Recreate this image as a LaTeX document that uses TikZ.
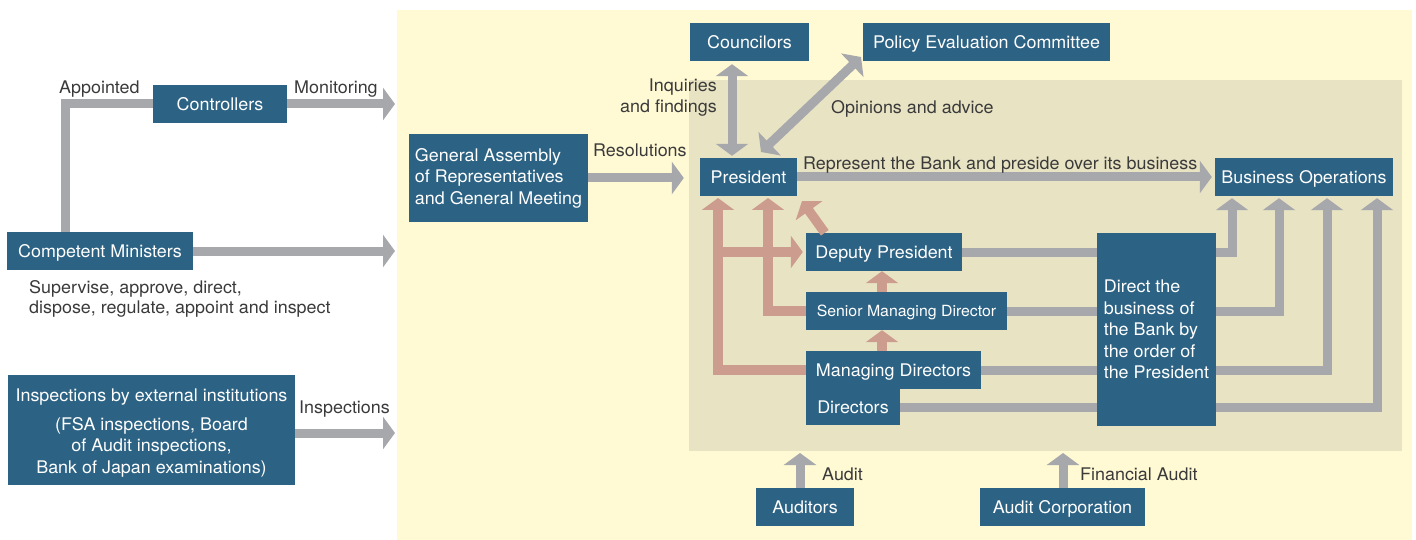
\documentclass[tikz,border=0pt]{standalone}
\usepackage{fontspec}
\setmainfont{TeX Gyre Heros}[FakeStretch=1.03]
\usetikzlibrary{arrows.meta}
\definecolor{bgyellow}{HTML}{FFF9D4}
\definecolor{bgbeige}{HTML}{E8E3C3}
\definecolor{boxblue}{HTML}{2C6283}
\definecolor{arrgray}{HTML}{A7A8AC}
\definecolor{arrred}{HTML}{CC9D8E}
\definecolor{labtext}{HTML}{3A3A3A}
\begin{document}
\begin{tikzpicture}[x=1pt,y=-1pt,
  font=\fontsize{17.4}{21.6}\selectfont,
  box/.style={fill=boxblue,text=white,inner sep=0pt,minimum height=38pt},
  one/.style={text height=12.7pt,text depth=0pt},
  lab/.style={text=labtext,inner sep=0pt,anchor=base west},
  gline/.style={draw=arrgray,line width=9pt,line join=miter},
  garrow/.style={gline,-{Triangle[width=32pt,length=12pt]}},
  gdarrow/.style={gline,{Triangle[width=32pt,length=12pt]}-{Triangle[width=32pt,length=12pt]}},
  rarrow/.style={draw=arrred,line width=9.5pt,line join=miter,-{Triangle[width=32pt,length=12pt]}}
]
\useasboundingbox (0,0) rectangle (1416,540);
% backgrounds
\fill[bgyellow] (397,10) rectangle (1412,540);
\fill[bgbeige] (689,80) rectangle (1402,451);

% boxes
\node[box,one,minimum width=134pt] (ctrl) at (220,104) {Controllers};
\node[box,one,minimum width=186pt] (cm) at (100,251) {Competent Ministers};
\node[box,minimum width=287pt,minimum height=110pt,align=center] (insp) at (151.5,430)
  {\rule{0pt}{18pt}Inspections by external institutions\\[7.4pt]
   (FSA inspections, Board\\ of Audit inspections,\\ Bank of Japan examinations)};
\node[box,minimum width=179pt,minimum height=88pt,align=left] (ga) at (498.5,178)
  {General Assembly\\ of Representatives\\ and General Meeting};
\node[box,one,minimum width=119pt] (coun) at (749.5,42) {Councilors};
\node[box,one,minimum width=247pt] (pec) at (986.5,42) {Policy Evaluation Committee};
\node[box,one,minimum width=97pt] (pres) at (748.5,177) {President};
\node[box,one,minimum width=178pt] (biz) at (1304,177) {Business Operations};
\node[box,one,minimum width=156pt] (dep) at (884,252) {Deputy President};
\node[box,one,minimum width=201pt,font=\fontsize{15.4}{19}\selectfont,text height=11.3pt] (sen) at (906.5,311) {Senior Managing Director};
\node[box,one,minimum width=175pt] (mgr) at (893.5,370) {Managing Directors};
\node[box,one,minimum width=94pt,minimum height=36pt] (drs) at (853,407) {Directors};
\node[box,minimum width=119pt,minimum height=193pt,align=left] (dirb) at (1156.5,329.5)
  {Direct the\\ business of\\ the Bank by\\ the order of\\ the President};
\node[box,one,minimum width=98pt] (aud) at (805,507) {Auditors};
\node[box,one,minimum width=165pt] (ac) at (1062.5,507) {Audit Corporation};

% free ends
\coordinate (apx) at (65,0);
\coordinate (monend) at (395,104);
\coordinate (cmend) at (395,251);
\coordinate (inspend) at (395,433);
\coordinate (cx) at (732,0);
\coordinate (pecend) at (861,57);
\coordinate (presend) at (761,152);
\coordinate (r1) at (718,198);
\coordinate (r1l) at (713.5,198);
\coordinate (r2) at (768,198);
\coordinate (r3) at (802,201);
\coordinate (rx) at (882,0);
\coordinate (audtip) at (800,453);
\coordinate (actip) at (1063,453);

% gray connectors
\draw[gline] (apx |- cm.north) |- (ctrl.west);
\draw[garrow] (ctrl.east) -- (monend);
\draw[garrow] (cm.east) -- (cmend);
\draw[garrow] (insp.east |- inspend) -- (inspend);
\draw[garrow,shorten >=16pt] (ga.east) -- (ga.east -| pres.west);
\draw[gdarrow,shorten <=3pt,shorten >=2pt] (cx |- coun.south) -- (cx |- pres.north);
\draw[gdarrow] (pecend) -- (presend);
\draw[garrow,shorten >=3pt] (pres.east) -- (biz.west);
\draw[gline] (dep.east) -- (dep.east -| dirb.west);
\draw[gline] (sen.east) -- (sen.east -| dirb.west);
\draw[gline] (mgr.east) -- (mgr.east -| dirb.west);
\draw[gline] (drs.east) -- (drs.east -| dirb.west);
\draw[garrow,shorten >=2pt] (dirb.east |- dep.east) -| ([xshift=-72pt]biz.south);
\draw[garrow,shorten >=2pt] (dirb.east |- sen.east) -| ([xshift=-25pt]biz.south);
\draw[garrow,shorten >=2pt] (dirb.east |- mgr.east) -| ([xshift=23pt]biz.south);
\draw[garrow,shorten >=2pt] (dirb.east |- drs.east) -| ([xshift=73pt]biz.south);
\draw[garrow] (audtip |- aud.north) -- (audtip);
\draw[garrow] (actip |- ac.north) -- (actip);

% red connectors
\draw[rarrow] (mgr.west) -| (r1);
\draw[rarrow] (sen.west) -| (r2);
\draw[rarrow,shorten >=3pt] (r1l |- dep.west) -- (dep.west);
\draw[rarrow] ([xshift=19pt]dep.north west) -- (r3);
\draw[rarrow] (rx |- sen.north) -- (rx |- dep.south);
\draw[rarrow] (rx |- mgr.north) -- (rx |- sen.south);

% labels
\node[lab] (lap) at (59,94) {Appointed};
\node[lab] (lmon) at (294,94) {Monitoring};
\node[text=labtext,inner sep=0pt,anchor=north west,align=left] (lsup) at (29,280.5)
  {Supervise, approve, direct,\\[-1.4pt] dispose, regulate, appoint and inspect};
\node[lab] (linsp) at (299,413) {Inspections};
\node[lab] (lres) at (593,157) {Resolutions};
\node[text=labtext,inner sep=0pt,anchor=north east,align=right] (linq) at (717,78.5)
  {Inquiries\\ and findings};
\node[lab] (lop) at (831,114) {Opinions and advice};
\node[lab] (lrep) at (803,169.5) {Represent the Bank and preside over its business};
\node[lab] (laud) at (822,480) {Audit};
\node[lab] (lfin) at (1080,480) {Financial Audit};
\end{tikzpicture}
\end{document}
